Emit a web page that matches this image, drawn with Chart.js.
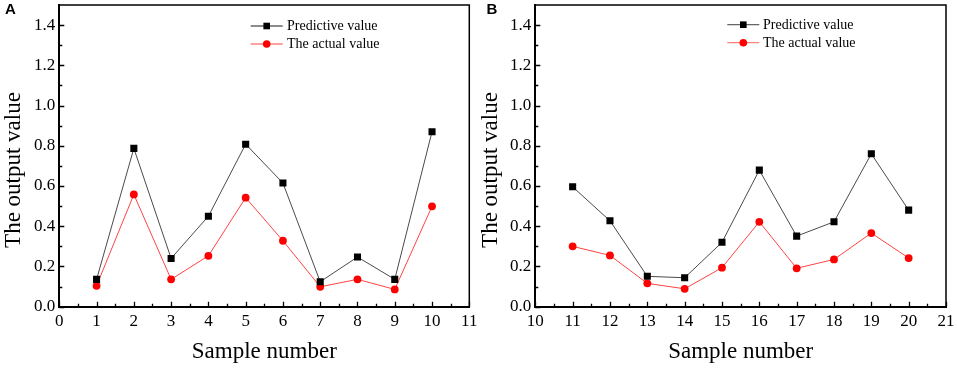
<!DOCTYPE html>
<html>
<head>
<meta charset="utf-8">
<script src="https://cdn.jsdelivr.net/npm/chart.js@4/dist/chart.umd.min.js"></script>
<style>
  html, body { margin:0; padding:0; background:#fff; }
  #wrap { position:relative; width:957px; height:369px; overflow:hidden; }
  .panel { position:absolute; top:0; height:369px; }
</style>
</head>
<body>
<div id="wrap">
  <div class="panel" style="left:0;width:478px;"><canvas id="cA"></canvas></div>
  <div class="panel" style="left:478px;width:479px;"><canvas id="cB"></canvas></div>
</div>
<script>
// ---- Data ----
const samplesA = [1, 2, 3, 4, 5, 6, 7, 8, 9, 10];
const predictiveA = [0.136, 0.787, 0.240, 0.450, 0.808, 0.615, 0.124, 0.247, 0.136, 0.870];
const actualA = [0.104, 0.558, 0.136, 0.253, 0.542, 0.328, 0.099, 0.136, 0.086, 0.499];

const samplesB = [11, 12, 13, 14, 15, 16, 17, 18, 19, 20];
const predictiveB = [0.596, 0.427, 0.151, 0.144, 0.320, 0.679, 0.351, 0.422, 0.760, 0.480];
const actualB = [0.300, 0.255, 0.116, 0.089, 0.194, 0.422, 0.191, 0.235, 0.366, 0.242];

const seriesNames = ['Predictive value', 'The actual value'];
const panelLabels = ['A', 'B'];
const xTitle = 'Sample number';
const yTitle = 'The output value';
const yTickValues = [0, 0.2, 0.4, 0.6, 0.8, 1.0, 1.2, 1.4];

const SERIF = '"Liberation Serif", "Times New Roman", serif';
const predLine = '#4a4a4a', predPoint = '#000000';
const actLine = '#ff4444', actPoint = '#ff0000';

function toPts(xs, ys) { return xs.map((x, i) => ({ x: x, y: ys[i] })); }

function makeChart(id, xs, pred, act, xmin, xmax, cfg) {
  const decor = {
    id: 'decor' + id,
    beforeDatasetsDraw(chart) {
      const ctx = chart.ctx;
      const a = chart.chartArea;
      const xs_ = chart.scales.x, ys_ = chart.scales.y;
      ctx.save();
      ctx.strokeStyle = '#000';
      // top & right frame
      ctx.lineWidth = 1.5;
      ctx.beginPath();
      ctx.moveTo(a.left, a.top); ctx.lineTo(a.right, a.top); ctx.lineTo(a.right, a.bottom);
      ctx.stroke();
      // inside ticks
      ctx.lineWidth = 1.3;
      ctx.beginPath();
      for (let v = 0; v <= 14; v++) {
        const y = Math.round(ys_.getPixelForValue(v / 10)) + 0.5;
        const len = v % 2 === 0 ? 5 : 3;
        ctx.moveTo(a.left, y); ctx.lineTo(a.left + len, y);
      }
      for (let k = 0; k <= (xmax - xmin) * 2; k++) {
        const x = Math.round(xs_.getPixelForValue(xmin + k / 2)) + 0.5;
        const len = k % 2 === 0 ? 5 : 3;
        ctx.moveTo(x, a.bottom); ctx.lineTo(x, a.bottom - len);
      }
      ctx.stroke();
      ctx.restore();
    },
    afterDraw(chart) {
      const ctx = chart.ctx;
      ctx.save();
      // y-axis title
      ctx.fillStyle = '#000';
      ctx.font = '23px ' + SERIF;
      ctx.textAlign = 'center'; ctx.textBaseline = 'middle';
      ctx.translate(cfg.yTitleX, 170);
      ctx.rotate(-Math.PI / 2);
      ctx.fillText(yTitle, 0, 0);
      ctx.restore();
      ctx.save();
      // legend
      const L = cfg.legend;
      const rows = [
        { name: seriesNames[0], line: '#666', pt: predPoint, style: 'rect' },
        { name: seriesNames[1], line: '#ff8080', pt: actPoint, style: 'circle' }
      ];
      rows.forEach((r, i) => {
        const y = L.y + i * L.dy;
        ctx.strokeStyle = r.line; ctx.lineWidth = 1.3;
        ctx.beginPath(); ctx.moveTo(L.x0, y); ctx.lineTo(L.x1, y); ctx.stroke();
        const cx = (L.x0 + L.x1) / 2;
        ctx.fillStyle = r.pt;
        if (r.style === 'rect') { ctx.fillRect(cx - 3.3, y - 3.3, 6.6, 6.6); }
        else { ctx.beginPath(); ctx.arc(cx, y, 3.8, 0, Math.PI * 2); ctx.fill(); }
        ctx.fillStyle = '#000';
        ctx.font = '14px ' + SERIF;
        ctx.textBaseline = 'middle'; ctx.textAlign = 'left';
        ctx.fillText(r.name, L.tx, y + 0.5);
      });
      // panel letter
      ctx.fillStyle = '#000';
      ctx.font = 'bold 15px "Liberation Sans", Arial, sans-serif';
      ctx.textBaseline = 'middle'; ctx.textAlign = 'left';
      ctx.fillText(cfg.letter, cfg.letterX, 10);
      ctx.restore();
    }
  };

  return new Chart(document.getElementById(id), {
    type: 'line',
    data: {
      datasets: [
        {
          label: seriesNames[0], data: toPts(xs, pred),
          borderColor: predLine, borderWidth: 1, backgroundColor: predPoint,
          pointStyle: 'rect', pointRadius: 5, pointBackgroundColor: predPoint,
          pointBorderWidth: 0, tension: 0, order: 1
        },
        {
          label: seriesNames[1], data: toPts(xs, act),
          borderColor: actLine, borderWidth: 1, backgroundColor: actPoint,
          pointStyle: 'circle', pointRadius: 3.9, pointBackgroundColor: actPoint,
          pointBorderWidth: 0, tension: 0, order: 2
        }
      ]
    },
    options: {
      responsive: true, maintainAspectRatio: false, animation: false,
      layout: { padding: { left: 0, top: 4.7, right: cfg.padRight, bottom: 0 } },
      plugins: { legend: { display: false }, tooltip: { enabled: false } },
      scales: {
        x: {
          type: 'linear', min: xmin, max: xmax,
          grid: { display: false, drawTicks: false },
          border: { display: true, color: '#000', width: 2 },
          ticks: { stepSize: 1, color: '#000', padding: 5, maxRotation: 0, autoSkip: false,
                   font: { family: SERIF, size: 17 } },
          title: { display: true, text: xTitle, color: '#000',
                   font: { family: SERIF, size: 23, lineHeight: 1 }, padding: { top: 0, bottom: 5.5 } },
          afterFit(s) { s.height = 369 - 306.7; s.paddingLeft = 0; s.paddingRight = 0; }
        },
        y: {
          type: 'linear', min: 0, max: 1.5,
          grid: { display: false, drawTicks: false },
          border: { display: true, color: '#000', width: 2 },
          afterBuildTicks(s) { s.ticks = yTickValues.map(v => ({ value: v })); },
          ticks: { color: '#000', padding: 4, font: { family: SERIF, size: 17 },
                   callback: v => Number(v).toFixed(1) },
          title: { display: false },
          afterFit(s) { s.width = cfg.yWidth; s.paddingTop = 0; s.paddingBottom = 0; }
        }
      }
    },
    plugins: [decor]
  });
}

makeChart('cA', samplesA, predictiveA, actualA, 0, 11, {
  yWidth: 59.3, padRight: 8.7, letter: panelLabels[0], letterX: 5, yTitleX: 13.5,
  legend: { x0: 250.7, x1: 282.7, tx: 287, y: 26, dy: 18 }
});
makeChart('cB', samplesB, predictiveB, actualB, 10, 21, {
  yWidth: 57.3, padRight: 11, letter: panelLabels[1], letterX: 8.5, yTitleX: 12.5,
  legend: { x0: 249.3, x1: 281.3, tx: 285, y: 24.7, dy: 18 }
});
</script>
</body>
</html>
